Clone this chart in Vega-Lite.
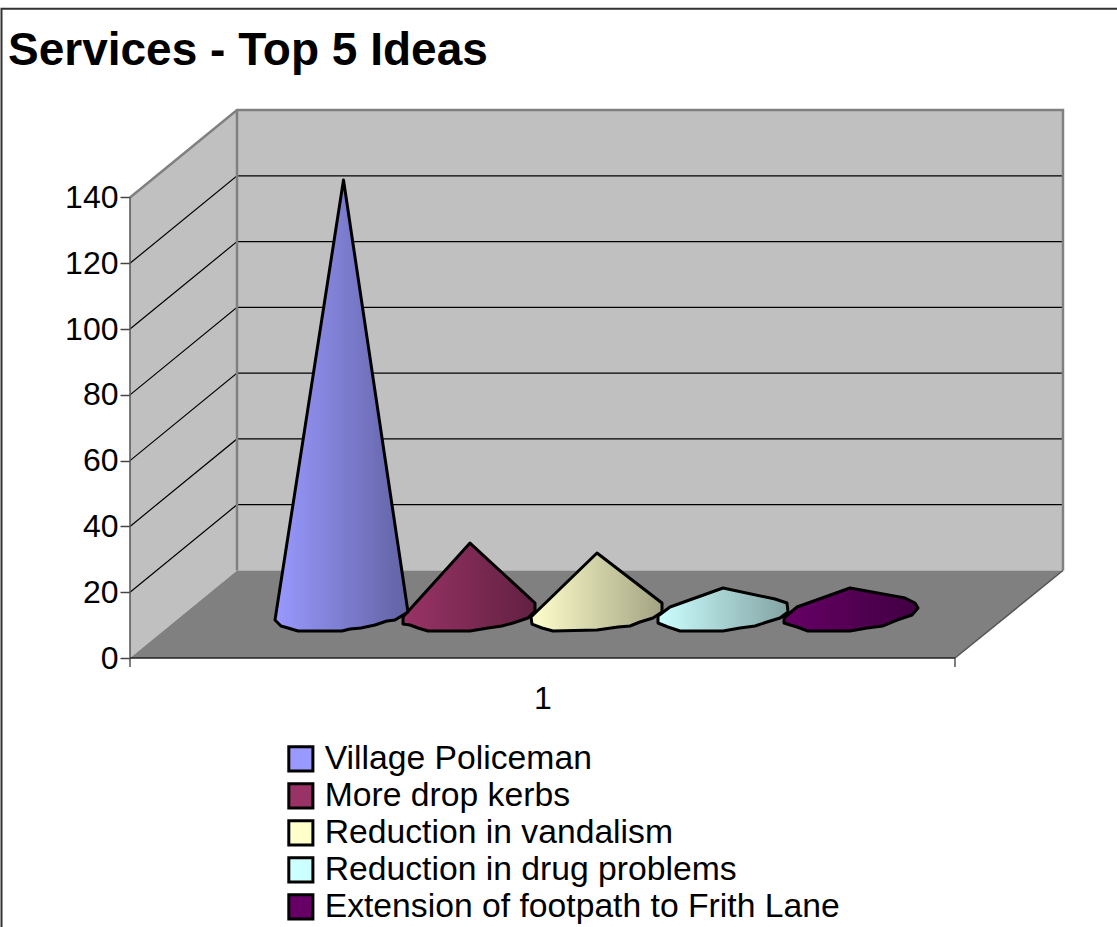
{
"$schema":"https://vega.github.io/schema/vega-lite/v6.json",
"autosize":{"type":"none"},
"width":933,"height":548,
"padding":{"left":130,"top":110,"right":54,"bottom":269},
"background":"white",
"config":{"view":{"stroke":null}},
"title":{"text":"Services - Top 5 Ideas","anchor":"start","frame":"group","dx":-122,"offset":-106,"baseline":"alphabetic","font":"Liberation Sans","fontSize":46,"fontWeight":"bold","color":"black"},
"datasets":{
"surfaces":[
{"part":"back","x":107,"y":26.6},{"part":"back","x":933,"y":26.6},{"part":"back","x":933,"y":166.6},{"part":"back","x":107,"y":166.6},
{"part":"side","x":0,"y":0},{"part":"side","x":107,"y":26.6},{"part":"side","x":107,"y":166.6},{"part":"side","x":0,"y":140}
],
"floor":[{"part":"floor","x":0,"y":0},{"part":"floor","x":825,"y":0},{"part":"floor","x":933,"y":26.6},{"part":"floor","x":107,"y":26.6}],
"grid":[
{"g":20,"x":0,"y":20},{"g":20,"x":107,"y":46.6},{"g":20,"x":933,"y":46.6},
{"g":40,"x":0,"y":40},{"g":40,"x":107,"y":66.6},{"g":40,"x":933,"y":66.6},
{"g":60,"x":0,"y":60},{"g":60,"x":107,"y":86.6},{"g":60,"x":933,"y":86.6},
{"g":80,"x":0,"y":80},{"g":80,"x":107,"y":106.6},{"g":80,"x":933,"y":106.6},
{"g":100,"x":0,"y":100},{"g":100,"x":107,"y":126.6},{"g":100,"x":933,"y":126.6},
{"g":120,"x":0,"y":120},{"g":120,"x":107,"y":146.6},{"g":120,"x":933,"y":146.6}
],
"edges":[
{"e":"a","x":0,"y":140},{"e":"a","x":107,"y":166.6},{"e":"a","x":933,"y":166.6},{"e":"a","x":933,"y":26.6},
{"e":"b","x":107,"y":166.6},{"e":"b","x":107,"y":26.6}
],
"dark":[
{"e":"left","x":0,"y":140},{"e":"left","x":0,"y":-2.7},
{"e":"right","x":825,"y":0},{"e":"right","x":825,"y":-2.7},
{"e":"depth","x":825,"y":0},{"e":"depth","x":933,"y":26.6}
],
"zero":[{"x":0,"y":0},{"x":825,"y":0}],
"frame":[{"x":-128.5,"y":-82},{"x":-128.5,"y":197.4},{"x":987,"y":197.4}],
"cones":[
{"idea":"Village Policeman","x":213.5,"y":145.3},{"idea":"Village Policeman","x":278,"y":14},{"idea":"Village Policeman","x":265,"y":11.55},{"idea":"Village Policeman","x":257,"y":11.25},{"idea":"Village Policeman","x":245,"y":10.03},{"idea":"Village Policeman","x":231,"y":9.12},{"idea":"Village Policeman","x":220,"y":8.81},{"idea":"Village Policeman","x":212,"y":8.21},{"idea":"Village Policeman","x":168,"y":8.21},{"idea":"Village Policeman","x":158,"y":9.12},{"idea":"Village Policeman","x":151,"y":9.73},{"idea":"Village Policeman","x":145,"y":11.55},
{"idea":"More drop kerbs","x":340,"y":34.95},{"idea":"More drop kerbs","x":405,"y":16.72},{"idea":"More drop kerbs","x":405,"y":14.29},{"idea":"More drop kerbs","x":398,"y":12.16},{"idea":"More drop kerbs","x":383,"y":10.64},{"idea":"More drop kerbs","x":372,"y":9.73},{"idea":"More drop kerbs","x":358,"y":9.12},{"idea":"More drop kerbs","x":340,"y":8.21},{"idea":"More drop kerbs","x":298,"y":8.21},{"idea":"More drop kerbs","x":288,"y":9.12},{"idea":"More drop kerbs","x":280,"y":10.03},{"idea":"More drop kerbs","x":273,"y":10.33},{"idea":"More drop kerbs","x":273,"y":12.46},
{"idea":"Reduction in vandalism","x":467,"y":31.91},{"idea":"Reduction in vandalism","x":532,"y":16.72},{"idea":"Reduction in vandalism","x":532,"y":14},{"idea":"Reduction in vandalism","x":523,"y":12.16},{"idea":"Reduction in vandalism","x":510,"y":10.94},{"idea":"Reduction in vandalism","x":500,"y":9.73},{"idea":"Reduction in vandalism","x":488,"y":9.42},{"idea":"Reduction in vandalism","x":467,"y":8.51},{"idea":"Reduction in vandalism","x":423,"y":8.21},{"idea":"Reduction in vandalism","x":412,"y":9.12},{"idea":"Reduction in vandalism","x":402,"y":10.33},{"idea":"Reduction in vandalism","x":401,"y":12.46},
{"idea":"Reduction in drug problems","x":593,"y":21.28},{"idea":"Reduction in drug problems","x":645,"y":17.93},{"idea":"Reduction in drug problems","x":657,"y":16.72},{"idea":"Reduction in drug problems","x":658,"y":14},{"idea":"Reduction in drug problems","x":650,"y":12.16},{"idea":"Reduction in drug problems","x":637,"y":10.94},{"idea":"Reduction in drug problems","x":625,"y":9.73},{"idea":"Reduction in drug problems","x":610,"y":9.12},{"idea":"Reduction in drug problems","x":593,"y":8.21},{"idea":"Reduction in drug problems","x":550,"y":8.21},{"idea":"Reduction in drug problems","x":538,"y":9.42},{"idea":"Reduction in drug problems","x":528,"y":10.64},{"idea":"Reduction in drug problems","x":528,"y":12.77},{"idea":"Reduction in drug problems","x":540,"y":15.5},
{"idea":"Extension of footpath to Frith Lane","x":720,"y":21.28},{"idea":"Extension of footpath to Frith Lane","x":775,"y":18.24},{"idea":"Extension of footpath to Frith Lane","x":785,"y":16.72},{"idea":"Extension of footpath to Frith Lane","x":788,"y":15.2},{"idea":"Extension of footpath to Frith Lane","x":782,"y":13.07},{"idea":"Extension of footpath to Frith Lane","x":767,"y":11.55},{"idea":"Extension of footpath to Frith Lane","x":753,"y":9.73},{"idea":"Extension of footpath to Frith Lane","x":737,"y":9.12},{"idea":"Extension of footpath to Frith Lane","x":720,"y":8.21},{"idea":"Extension of footpath to Frith Lane","x":678,"y":8.21},{"idea":"Extension of footpath to Frith Lane","x":667,"y":9.42},{"idea":"Extension of footpath to Frith Lane","x":654,"y":10.64},{"idea":"Extension of footpath to Frith Lane","x":654,"y":12.16},{"idea":"Extension of footpath to Frith Lane","x":667,"y":15.5}
]
},
"encoding":{
"x":{"field":"x","type":"quantitative","scale":{"domain":[0,933],"nice":false,"zero":false},
  "axis":{"values":[412.5],"title":null,"labelExpr":"'1'","ticks":false,"domain":false,"grid":false,"labelFont":"Liberation Sans","labelFontSize":32,"labelColor":"black","labelPadding":25}},
"y":{"field":"y","type":"quantitative","scale":{"domain":[0,166.6],"nice":false,"zero":false},
  "axis":{"values":[0,20,40,60,80,100,120,140],"title":null,"domain":false,"grid":false,"tickSize":10,"tickColor":"#444444","tickWidth":1.5,"labelFont":"Liberation Sans","labelFontSize":32,"labelColor":"black","labelPadding":2}},
"order":{"value":null}
},
"layer":[
{"data":{"name":"surfaces"},
 "mark":{"type":"line","interpolate":"linear-closed","fill":"#C0C0C0","strokeWidth":0},
 "encoding":{"detail":{"field":"part"}}},
{"data":{"name":"floor"},
 "mark":{"type":"line","interpolate":"linear-closed","fill":"#808080","strokeWidth":0}},
{"data":{"name":"grid"},
 "mark":{"type":"line","stroke":"black","strokeWidth":1.2},
 "encoding":{"detail":{"field":"g"}}},
{"data":{"name":"edges"},
 "mark":{"type":"line","stroke":"#808080","strokeWidth":2.5},
 "encoding":{"detail":{"field":"e"}}},
{"data":{"name":"dark"},
 "mark":{"type":"line","stroke":"#555555","strokeWidth":1.5},
 "encoding":{"detail":{"field":"e"}}},
{"data":{"name":"zero"},
 "mark":{"type":"line","stroke":"#222222","strokeWidth":1.5}},
{"data":{"name":"frame"},
 "mark":{"type":"line","stroke":"#333333","strokeWidth":2}},
{"data":{"name":"cones"},
 "mark":{"type":"line","interpolate":"linear-closed","strokeWidth":0},
 "encoding":{"fill":{"field":"idea","type":"nominal",
   "scale":{"domain":["Village Policeman","More drop kerbs","Reduction in vandalism","Reduction in drug problems","Extension of footpath to Frith Lane"],"range":["#9999FF","#993366","#FFFFCC","#CCFFFF","#660066"]},
   "legend":{"orient":"none","legendX":154,"legendY":632,"title":null,"symbolType":"square","symbolSize":580,"symbolStrokeColor":"black","symbolStrokeWidth":3,"symbolOpacity":1,"labelFont":"Liberation Sans","labelFontSize":33.7,"labelColor":"black","labelLimit":700,"labelOffset":7,"rowPadding":0,"padding":0}}}},
{"data":{"name":"cones"},
 "mark":{"type":"line","interpolate":"linear-closed","strokeWidth":0,
   "fill":{"gradient":"linear","x1":0,"y1":0,"x2":1,"y2":0,"stops":[{"offset":0,"color":"rgba(0,0,0,0)"},{"offset":1,"color":"rgba(0,0,0,0.36)"}]}},
 "encoding":{"detail":{"field":"idea"}}},
{"data":{"name":"cones"},
 "mark":{"type":"line","interpolate":"linear-closed","stroke":"black","strokeWidth":3,"strokeJoin":"round"},
 "encoding":{"detail":{"field":"idea"}}}
]
}
